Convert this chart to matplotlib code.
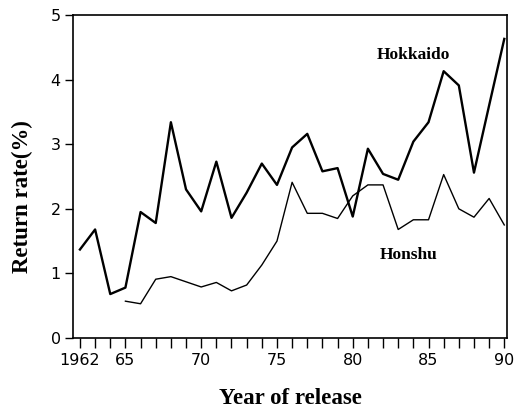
import matplotlib
matplotlib.use("Agg")
import matplotlib.pyplot as plt

# Return rate (%) by year of release
years_hokkaido = list(range(1962, 1991))
hokkaido = [1.37, 1.68, 0.68, 0.78, 1.95, 1.78, 3.34, 2.30, 1.96, 2.73,
            1.86, 2.25, 2.70, 2.37, 2.95, 3.16, 2.58, 2.63, 1.88, 2.93,
            2.54, 2.45, 3.04, 3.34, 4.13, 3.91, 2.56, 3.60, 4.63]

years_honshu = list(range(1965, 1991))
honshu = [0.57, 0.53, 0.91, 0.95, 0.87, 0.79, 0.86, 0.73, 0.82, 1.13,
          1.50, 2.41, 1.93, 1.93, 1.85, 2.20, 2.37, 2.37, 1.68, 1.83,
          1.83, 2.53, 2.00, 1.87, 2.16, 1.75]

tick_years = [1962, 1965, 1970, 1975, 1980, 1985, 1990]
tick_labels = ["1962", "65", "70", "75", "80", "85", "90"]

serif = "Liberation Serif"
sans = "DejaVu Sans"

fig = plt.figure(figsize=(5.15, 4.12), dpi=100)
ax = fig.add_axes([0.1423, 0.1796, 0.8416, 0.784])

ax.plot(years_hokkaido, hokkaido, color="black", lw=1.7)
ax.plot(years_honshu, honshu, color="black", lw=1.0)

ax.text(1984.0, 4.38, "Hokkaido", fontfamily=serif, fontweight="bold",
        fontsize=12.5, ha="center", va="center")
ax.text(1983.7, 1.28, "Honshu", fontfamily=serif, fontweight="bold",
        fontsize=12.5, ha="center", va="center")

ax.set_xlim(1961.56, 1990.16)
ax.set_ylim(0, 5)
ax.set_xticks(range(1962, 1991))
ax.set_xticklabels([tick_labels[tick_years.index(y)] if y in tick_years else ""
                    for y in range(1962, 1991)])
ax.set_yticks([0, 1, 2, 3, 4, 5])
ax.tick_params(axis="x", direction="out", length=7, width=1.0, pad=4)
ax.tick_params(axis="y", direction="out", length=6, width=1.0, pad=3)
for lab in ax.get_xticklabels() + ax.get_yticklabels():
    lab.set_fontfamily(sans)
    lab.set_fontsize(11.5)

for sp in ax.spines.values():
    sp.set_linewidth(1.2)

ax.set_xlabel("Year of release", fontfamily=serif, fontweight="bold",
              fontsize=16.5, labelpad=14)
fig.text(22 / 515, 1 - 197 / 412, "Return rate(%)", fontfamily=serif,
         fontweight="bold", fontsize=16.5, rotation=90,
         ha="center", va="center")

fig.savefig("out.png", dpi=100)
